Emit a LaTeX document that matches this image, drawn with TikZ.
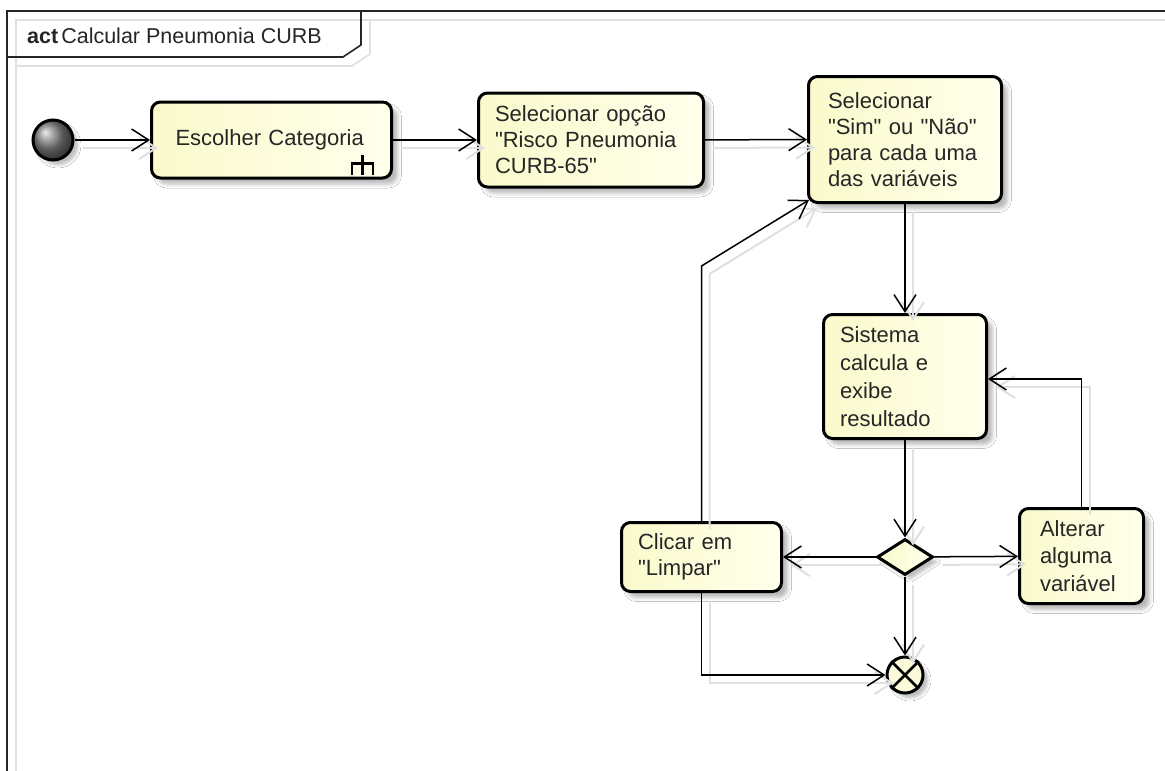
\documentclass[tikz,border=0pt]{standalone}
\usepackage{fontspec}
\setmainfont{Liberation Sans}[Ligatures=TeXOff]
\usetikzlibrary{arrows.meta,shapes.geometric,shadows.blur,calc}

\definecolor{actA}{RGB}{250,250,204}
\definecolor{actB}{RGB}{255,255,236}
\definecolor{ink}{RGB}{38,38,38}
\definecolor{haze}{RGB}{224,224,224}

\tikzset{
  x=1pt, y=-1pt,
  actbox/.style={draw=black, line width=3pt, rounded corners=9pt,
    left color=actA, right color=actB, align=left, inner sep=0pt,
    font=\fontsize{22}{26}\selectfont, text=ink,
    blur shadow={shadow xshift=6pt, shadow yshift=-6pt,
      shadow blur radius=4pt, shadow opacity=28}},
  startdot/.style={circle, draw=black, line width=3pt, minimum size=40pt,
    inner sep=0pt, shading=ball, ball color=black!50,
    blur shadow={shadow xshift=5pt, shadow yshift=-5pt,
      shadow blur radius=3pt, shadow opacity=25}},
  enddot/.style={circle, draw=black, line width=3pt, minimum size=36pt,
    inner sep=0pt, fill=actA!70!white,
    blur shadow={shadow xshift=5pt, shadow yshift=-5pt,
      shadow blur radius=3pt, shadow opacity=25}},
  choice/.style={diamond, draw=black, line width=3pt, minimum width=56pt,
    minimum height=36pt, inner sep=0pt, left color=actA, right color=actB,
    blur shadow={shadow xshift=5pt, shadow yshift=-5pt,
      shadow blur radius=3pt, shadow opacity=25}},
  flow/.style={draw=black, line width=1.5pt,
    -{Straight Barb[length=17pt,width=22pt]}},
  flowhaze/.style={draw=haze, line width=2pt,
    -{Straight Barb[length=17pt,width=22pt]}},
  frameline/.style={draw=black!85, line width=1.6pt},
  framehaze/.style={draw=haze, line width=1.6pt},
  rake/.style={draw=black, line width=2.8pt},
}

% all control flows of the activity, drawn in the given style
\newcommand\actflows[1]{%
  \draw[#1] (init) -- (esc);
  \draw[#1] (esc) -- (selop);
  \draw[#1] (selop) -- (selsim);
  \draw[#1] (selsim) -- (sis);
  \draw[#1] (sis) -- (dec);
  \draw[#1] (dec) -- (cli);
  \draw[#1] (dec) -- (alt);
  \draw[#1] (dec) -- (fin);
  \draw[#1] (alt.north) -- (loopR) -- (loopR -| sis.east);
  \draw[#1] (cli.north) -- (bendL) -- ($(selsim.south west)+(2,-4)$);
  \draw[#1] (cli.south) |- (fin.west);
}

\begin{document}
\begin{tikzpicture}
\useasboundingbox (0,0) rectangle (1165,771);
\clip (0,0) rectangle (1165,771);
\fill[white] (0,0) rectangle (1165,771);

% activity frame and its name tab
\draw[framehaze] (16,790) -- (16,20) -- (1190,20);
\draw[framehaze] (16,66) -- (352,66) -- (370,54) -- (370,20);
\draw[frameline] (7,790) -- (7,11) -- (1190,11);
\draw[frameline] (7,57) -- (343,57) -- (361,45) -- (361,11);
\node[anchor=base west, inner sep=0pt, text=ink,
  font=\fontsize{21.5}{26}\selectfont] (title) at (27,43)
  {\textbf{act}\hspace{3pt}Calcular Pneumonia CURB};

% nodes
\node[startdot] (init) at (53,140) {};
\node[actbox, minimum width=240pt, minimum height=76pt, text width=192pt]
  (esc) at (271.5,140) {Escolher Categoria};
\node[actbox, minimum width=225pt, minimum height=94pt, text width=192pt]
  (selop) at (591,140) {Selecionar opção\\"Risco Pneumonia\\CURB-65"};
\node[actbox, minimum width=193pt, minimum height=126pt, text width=154pt]
  (selsim) at (905,139.5) {Selecionar\\"Sim" ou "Não"\\para cada uma\\das variáveis};
\node[actbox, minimum width=163pt, minimum height=124pt, text width=130pt,
  font=\fontsize{22}{28}\selectfont]
  (sis) at (905,376.5) {Sistema\\calcula e\\exibe\\resultado};
\node[choice] (dec) at (905,557) {};
\node[actbox, minimum width=160pt, minimum height=69pt, text width=127pt]
  (cli) at (701.5,557) {Clicar em\\"Limpar"};
\node[actbox, minimum width=124pt, minimum height=95pt, text width=83pt,
  font=\fontsize{22}{27.5}\selectfont]
  (alt) at (1081.5,556) {Alterar\\alguma\\variável};
\node[enddot] (fin) at (905,675) {};
\draw[line width=2.6pt] (fin.north east) -- (fin.south west)
  (fin.north west) -- (fin.south east);

% call-behavior rake on the first action
\draw[rake] ([shift={(-41,-5)}]esc.south east) -- ++(0,-11) -- ++(21,0) -- ++(0,11)
  ([shift={(-30.5,-5)}]esc.south east) -- ++(0,-20);

% bend points of the loops
\coordinate (loopR) at (1081.5,379);
\coordinate (bendL) at (701.5,266);

% flows with their faint offset copies
\begin{scope}[transform canvas={xshift=8pt, yshift=-8pt}]
  \actflows{flowhaze}
\end{scope}
\actflows{flow}
\end{tikzpicture}
\end{document}
